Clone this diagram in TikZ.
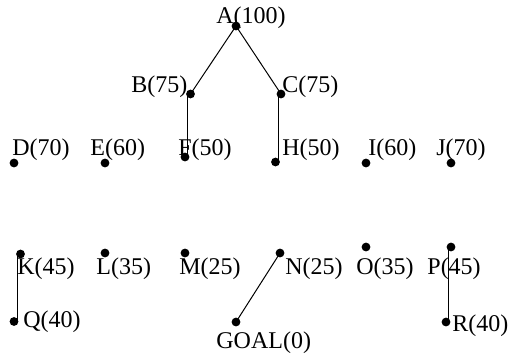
\documentclass[tikz,border=0pt]{standalone}
\usepackage{fontspec}
\setmainfont{Liberation Serif}
\usetikzlibrary{calc}
\begin{document}
\begin{tikzpicture}[x=0.5pt,y=-0.5pt,
  dot/.style={circle,fill=black,inner sep=0pt,minimum size=4.4pt},
  lbl/.style={anchor=base west,inner sep=0pt,font=\fontsize{12}{14}\selectfont},
  edge/.style={draw=black,line width=0.5pt}]
\useasboundingbox (0,0) rectangle (512,354);
% dots
\node[dot] (A) at (236,26) {};
\node[dot] (B) at (190.5,94) {};
\node[dot] (C) at (281,94) {};
\node[dot] (D) at (14,163) {};
\node[dot] (E) at (105,163) {};
\node[dot] (F) at (185,157) {};
\node[dot] (H) at (275.5,162) {};
\node[dot] (I) at (366,163) {};
\node[dot] (J) at (451,163) {};
\node[dot] (K) at (20.5,254) {};
\node[dot] (L) at (105,253) {};
\node[dot] (M) at (185,253) {};
\node[dot] (N) at (280,253) {};
\node[dot] (O) at (366,247) {};
\node[dot] (P) at (451,247) {};
\node[dot] (Q) at (14,321.5) {};
\node[dot] (G) at (236,322) {};
\node[dot] (R) at (446,322) {};
% edges
\coordinate (bf) at ($(B)!0.5!(F)$);
\coordinate (ch) at ($(C)!0.5!(H)$);
\coordinate (kq) at ($(K)!0.5!(Q)$);
\coordinate (pr) at ($(P)!0.5!(R)$);
\draw[edge] (A.center) -- (B.center);
\draw[edge] (A.center) -- (C.center);
\draw[edge] (bf |- B.center) -- (bf |- F.center);
\draw[edge] (ch |- C.center) -- (ch |- H.center);
\draw[edge] (kq |- K.center) -- (kq |- Q.center);
\draw[edge] (N.center) -- (G.center);
\draw[edge] (pr |- P.center) -- (pr |- R.center);
% labels
\node[lbl] (tA) at (216,23) {A(100)};
\node[lbl] (tB) at (131,92) {B(75)};
\node[lbl] (tC) at (282,92) {C(75)};
\node[lbl] (tD) at (12,155) {D(70)};
\node[lbl] (tE) at (90,155) {E(60)};
\node[lbl] (tF) at (178,155) {F(50)};
\node[lbl] (tH) at (282,155) {H(50)};
\node[lbl] (tI) at (368,155) {I(60)};
\node[lbl] (tJ) at (436,155) {J(70)};
\node[lbl] (tK) at (17,274) {K(45)};
\node[lbl] (tL) at (96,274) {L(35)};
\node[lbl] (tM) at (179,274) {M(25)};
\node[lbl] (tN) at (285,274) {N(25)};
\node[lbl] (tO) at (356,274) {O(35)};
\node[lbl] (tP) at (427,274) {P(45)};
\node[lbl] (tQ) at (23,327) {Q(40)};
\node[lbl] (tG) at (216,348) {GOAL(0)};
\node[lbl] (tR) at (452,331) {R(40)};
\end{tikzpicture}
\end{document}
